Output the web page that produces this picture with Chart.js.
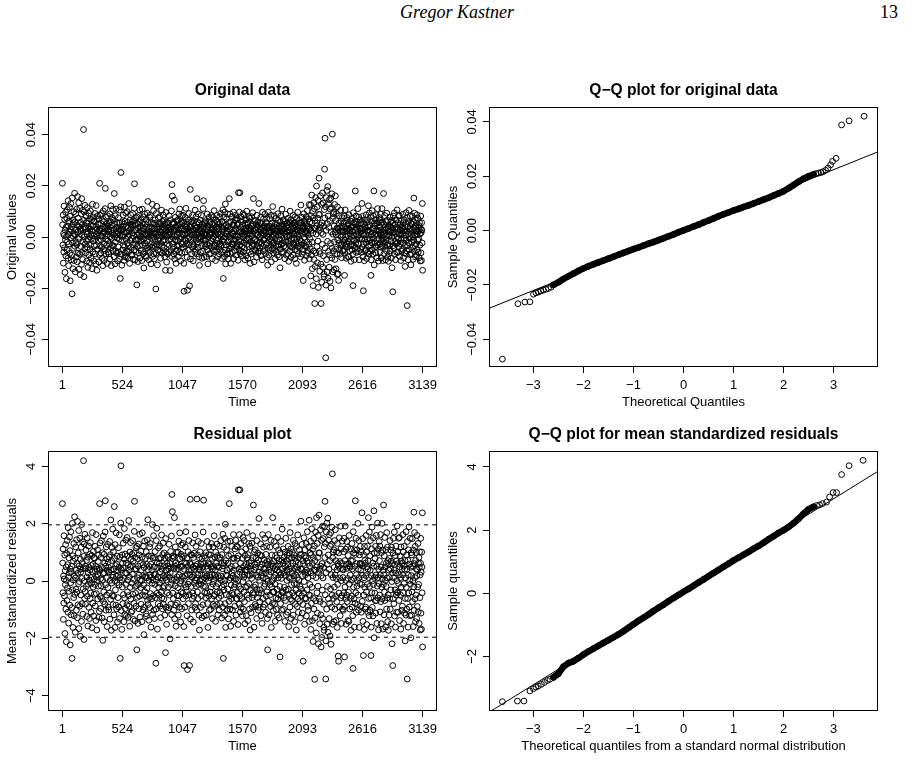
<!DOCTYPE html>
<html>
<head>
<meta charset="utf-8">
<script src="https://cdn.jsdelivr.net/npm/chart.js"></script>
<style>
  html, body { margin: 0; padding: 0; background: #fff; }
  body { width: 914px; height: 760px; position: relative; overflow: hidden; }
  .panel { position: absolute; width: 457px; height: 350px; }
  .header { position: absolute; top: 2px; font-family: "Liberation Serif", "DejaVu Serif", serif; font-size: 18px; line-height: 20px; color: #000; }
</style>
</head>
<body>
<div class="header" style="left:0;width:914px;text-align:center;font-style:italic;">Gregor Kastner</div>
<div class="header" style="right:16px;">13</div>
<div class="panel" style="left:0;top:70px"><canvas id="origPlot" width="457" height="350"></canvas></div>
<div class="panel" style="left:441px;top:70px"><canvas id="origQQ" width="457" height="350"></canvas></div>
<div class="panel" style="left:0;top:414px"><canvas id="residPlot" width="457" height="350"></canvas></div>
<div class="panel" style="left:441px;top:414px"><canvas id="residQQ" width="457" height="350"></canvas></div>
<script>
// every second day of the 3139: 1, 3, ..., 3139
const timeStep = 2;
const timeTicks = [1, 524, 1047, 1570, 2093, 2616, 3139];
const returnTicks = [-0.04, -0.02, 0, 0.02, 0.04];
const residualTicks = [-4, -2, 0, 2, 4];
const residualQQTicks = [-2, 0, 2, 4];
const quantileTicks = [-3, -2, -1, 0, 1, 2, 3];
const residualBands = [-1.96, 1.96];

const originalValues = [
  0.0210, 0.0048, -0.0031, 0.0086, -0.0102, 0.0014, -0.0059, 0.0121, 0.0006, -0.0042, 0.0069, -0.0138, 0.0027, -0.0011, 0.0097, -0.0074, 0.0038, -0.0163, 0.0002, 0.0073,
  -0.0051, 0.0107, -0.0018, 0.0043, -0.0083, 0.0142, 0.0009, -0.0112, 0.0061, -0.0027, 0.0022, 0.0117, -0.0064, 0.0081, -0.0171, 0.0032, -0.0004, 0.0131, -0.0089, 0.0025,
  0.0039, -0.0071, -0.0222, 0.0153, -0.0023, 0.0067, -0.0124, 0.0003, 0.0052, -0.0044, 0.0099, -0.0092, 0.0013, 0.0171, -0.0036, 0.0060, -0.0136, 0.0008, 0.0091, -0.0022,
  0.0029, -0.0078, 0.0109, -0.0030, 0.0046, -0.0097, 0.0158, 0.0021, -0.0063, 0.0074, -0.0007, 0.0134, -0.0126, 0.0040, -0.0001, -0.0067, 0.0113, 0.0031, -0.0147, 0.0058,
  0.0024, -0.0037, 0.0090, -0.0107, 0.0150, 0.0007, -0.0060, 0.0049, 0.0104, -0.0088, 0.0033, -0.0021, 0.0420, 0.0065, -0.0155, 0.0098, 0.0001, -0.0046, 0.0124, -0.0028,
  0.0040, -0.0062, 0.0034, 0.0082, -0.0014, 0.0055, -0.0094, 0.0011, 0.0115, -0.0040, 0.0063, -0.0119, 0.0021, -0.0008, 0.0093, -0.0070, 0.0036, 0.0002, -0.0100, 0.0071,
  0.0030, -0.0047, 0.0102, -0.0032, 0.0009, -0.0083, 0.0041, -0.0006, 0.0068, -0.0124, 0.0024, 0.0128, -0.0059, 0.0044, -0.0016, 0.0078, -0.0093, 0.0005, 0.0062, -0.0035,
  0.0060, -0.0009, 0.0092, -0.0066, 0.0026, 0.0039, -0.0105, 0.0123, -0.0033, 0.0011, -0.0130, 0.0031, 0.0002, 0.0083, -0.0048, 0.0017, 0.0052, -0.0014, 0.0070, -0.0097,
  0.0028, -0.0069, 0.0210, 0.0024, 0.0086, -0.0035, 0.0005, -0.0062, 0.0053, -0.0011, 0.0092, -0.0040, 0.0031, -0.0084, 0.0064, 0.0003, -0.0112, 0.0017, 0.0102, -0.0047,
  -0.0025, 0.0060, -0.0092, 0.0018, 0.0041, -0.0053, 0.0111, 0.0190, -0.0008, 0.0034, -0.0066, 0.0077, 0.0007, -0.0032, 0.0051, -0.0103, 0.0024, 0.0083, -0.0015, 0.0043,
  -0.0059, 0.0031, -0.0066, 0.0020, 0.0055, -0.0027, 0.0090, -0.0086, 0.0001, 0.0060, -0.0042, 0.0122, 0.0025, -0.0112, 0.0046, -0.0005, 0.0076, -0.0033, 0.0014, 0.0108,
  -0.0053, 0.0008, 0.0066, -0.0034, 0.0027, -0.0077, 0.0170, 0.0051, 0.0001, -0.0105, 0.0083, -0.0020, 0.0035, -0.0055, 0.0109, 0.0010, -0.0063, 0.0038, -0.0004, 0.0057,
  -0.0093, 0.0023, -0.0038, 0.0014, 0.0075, -0.0059, 0.0031, -0.0009, 0.0105, -0.0085, 0.0054, 0.0008, -0.0162, 0.0029, 0.0118, 0.0252, -0.0067, 0.0025, 0.0002, -0.0110,
  0.0059, -0.0014, 0.0040, -0.0051, 0.0030, 0.0086, -0.0031, 0.0006, -0.0092, 0.0050, 0.0117, -0.0038, -0.0077, 0.0061, -0.0062, 0.0018, 0.0093, -0.0008, 0.0041, -0.0079,
  0.0018, -0.0054, 0.0099, -0.0025, 0.0057, 0.0002, -0.0083, 0.0037, -0.0033, 0.0131, -0.0057, 0.0024, 0.0009, -0.0103, 0.0066, -0.0014, 0.0032, 0.0087, -0.0041, 0.0049,
  -0.0071, 0.0035, -0.0005, 0.0060, -0.0068, 0.0016, 0.0092, -0.0030, 0.0045, -0.0087, 0.0004, 0.0064, -0.0051, 0.0112, 0.0208, 0.0027, -0.0090, 0.0053, -0.0012, -0.0028,
  0.0075, -0.0057, 0.0027, -0.0010, -0.0187, 0.0079, -0.0037, 0.0007, 0.0051, -0.0096, 0.0034, -0.0008, 0.0084, -0.0063, 0.0014, 0.0059, -0.0034, 0.0106, -0.0082, 0.0003,
  0.0040, -0.0015, 0.0068, -0.0053, 0.0025, 0.0001, -0.0092, 0.0054, 0.0109, -0.0031, 0.0012, -0.0066, 0.0037, 0.0079, -0.0009, -0.0121, 0.0031, -0.0059, 0.0090, -0.0024,
  0.0008, 0.0051, -0.0034, 0.0012, -0.0074, 0.0066, -0.0080, 0.0007, 0.0038, -0.0016, 0.0093, -0.0044, 0.0139, -0.0053, 0.0025, 0.0057, -0.0089, 0.0001, 0.0033, -0.0038,
  0.0077, -0.0060, 0.0014, 0.0085, -0.0029, 0.0038, -0.0105, 0.0008, 0.0057, -0.0040, 0.0024, -0.0005, 0.0128, -0.0076, 0.0053, 0.0002, -0.0033, 0.0103, -0.0066, 0.0015,
  0.0032, -0.0085, 0.0053, -0.0008, 0.0067, -0.0038, 0.0016, -0.0203, -0.0064, 0.0092, 0.0001, 0.0120, -0.0028, 0.0041, -0.0109, 0.0031, 0.0009, -0.0051, 0.0075, -0.0014,
  0.0051, -0.0032, 0.0040, -0.0005, 0.0079, -0.0057, 0.0020, 0.0034, -0.0083, 0.0053, -0.0025, 0.0008, 0.0105, -0.0038, 0.0027, -0.0063, 0.0001, 0.0060, -0.0015, 0.0086,
  -0.0053, 0.0012, -0.0041, 0.0064, -0.0012, 0.0034, -0.0077, 0.0051, 0.0008, -0.0130, 0.0096, -0.0060, 0.0025, 0.0003, -0.0098, 0.0040, 0.0058, -0.0027, 0.0014, -0.0066,
  0.0034, 0.0054, -0.0014, 0.0027, -0.0060, 0.0083, -0.0032, 0.0008, 0.0040, -0.0131, 0.0018, 0.0067, -0.0053, 0.0031, -0.0008, 0.0102, -0.0076, 0.0205, 0.0002, 0.0160,
  0.0051, -0.0027, 0.0057, -0.0040, 0.0029, -0.0066, 0.0054, 0.0005, 0.0144, -0.0086, 0.0034, -0.0011, 0.0077, -0.0055, 0.0041, -0.0103, 0.0027, 0.0001, 0.0064, -0.0033,
  0.0009, -0.0051, 0.0037, -0.0015, 0.0066, -0.0077, 0.0028, 0.0090, -0.0034, 0.0014, -0.0059, 0.0109, 0.0051, -0.0006, 0.0032, -0.0093, 0.0001, 0.0060, -0.0025, 0.0082,
  -0.0063, 0.0033, 0.0010, 0.0053, -0.0028, 0.0085, -0.0040, 0.0008, 0.0057, -0.0103, -0.0212, 0.0027, -0.0008, 0.0042, -0.0059, 0.0077, 0.0012, -0.0034, 0.0112, -0.0014,
  0.0040, -0.0025, 0.0051, -0.0079, 0.0015, -0.0208, 0.0033, -0.0007, 0.0066, -0.0051, 0.0025, 0.0092, -0.0031, -0.0001, -0.0191, 0.0041, 0.0014, 0.0186, -0.0086, 0.0060,
  0.0038, -0.0012, 0.0025, -0.0066, 0.0059, 0.0008, -0.0040, 0.0086, -0.0027, 0.0031, -0.0093, 0.0053, 0.0012, -0.0034, 0.0063, -0.0005, 0.0027, -0.0060, 0.0105, 0.0002,
  -0.0051, 0.0034, 0.0079, -0.0012, 0.0007, -0.0066, 0.0150, 0.0038, -0.0025, 0.0059, 0.0014, -0.0040, 0.0090, -0.0008, 0.0027, -0.0077, 0.0053, -0.0111, 0.0032, 0.0001,
  0.0066, 0.0025, -0.0060, 0.0038, -0.0007, 0.0085, -0.0034, 0.0015, -0.0083, 0.0051, 0.0003, 0.0031, -0.0054, 0.0111, -0.0012, 0.0142, 0.0040, -0.0079, 0.0008, 0.0057,
  -0.0027, 0.0014, -0.0012, 0.0053, -0.0038, 0.0064, 0.0006, -0.0077, 0.0034, 0.0011, -0.0027, 0.0090, -0.0051, 0.0028, -0.0105, 0.0040, 0.0001, 0.0060, -0.0034, 0.0077,
  -0.0066, 0.0014, 0.0038, -0.0025, 0.0008, 0.0059, -0.0064, 0.0032, -0.0014, 0.0085, -0.0040, 0.0014, 0.0051, -0.0085, 0.0027, -0.0007, 0.0077, -0.0053, 0.0033, 0.0001,
  -0.0034, 0.0103, -0.0057, 0.0014, 0.0054, -0.0031, 0.0025, -0.0092, 0.0066, 0.0008, -0.0012, 0.0040, -0.0053, 0.0084, -0.0025, 0.0033, 0.0058, -0.0077, 0.0012, -0.0006,
  0.0051, -0.0038, 0.0031, -0.0066, 0.0007, 0.0079, -0.0027, 0.0053, -0.0051, 0.0012, 0.0092, -0.0033, 0.0001, 0.0040, -0.0084, 0.0060, -0.0014, 0.0028, -0.0059, 0.0106,
  0.0034, -0.0162, -0.0008, 0.0077, -0.0020, 0.0041, -0.0077, 0.0097, 0.0001, -0.0051, 0.0129, -0.0105, 0.0046, 0.0014, -0.0031, 0.0071, -0.0067, 0.0025, 0.0012, -0.0064,
  0.0090, -0.0018, 0.0040, -0.0086, 0.0057, 0.0002, -0.0046, 0.0150, -0.0034, 0.0028, -0.0064, 0.0090, 0.0007, -0.0103, 0.0060, -0.0009, 0.0033, -0.0040, 0.0079, -0.0028,
  0.0017, -0.0061, 0.0047, 0.0011, -0.0029, 0.0097, -0.0085, 0.0023, 0.0047, -0.0013, 0.0005, -0.0053, 0.0067, -0.0007, 0.0032, 0.0085, -0.0071, 0.0005, -0.0037, 0.0073,
  -0.0037, 0.0047, -0.0025, 0.0071, 0.0001, -0.0091, 0.0053, 0.0173, -0.0011, 0.0025, -0.0049, 0.0097, -0.0031, 0.0173, 0.0019, -0.0065, 0.0037, -0.0017, 0.0079, -0.0056,
  0.0023, 0.0061, -0.0037, 0.0013, -0.0073, 0.0047, -0.0001, 0.0091, -0.0059, 0.0031, 0.0008, -0.0023, 0.0085, -0.0043, 0.0013, -0.0089, 0.0053, 0.0023, -0.0013, 0.0067,
  0.0035, -0.0073, 0.0023, 0.0101, -0.0029, 0.0049, -0.0011, 0.0029, -0.0083, 0.0055, 0.0013, -0.0037, 0.0079, -0.0005, 0.0038, -0.0059, 0.0011, 0.0073, -0.0103, 0.0025,
  -0.0019, 0.0031, -0.0067, 0.0043, 0.0005, 0.0079, -0.0035, 0.0014, -0.0055, 0.0095, -0.0025, 0.0049, 0.0150, -0.0029, 0.0023, -0.0097, 0.0061, -0.0013, 0.0035, -0.0049,
  0.0065, -0.0008, 0.0029, -0.0053, 0.0049, 0.0013, -0.0079, 0.0085, -0.0017, 0.0037, -0.0035, 0.0058, 0.0008, -0.0061, 0.0044, -0.0025, 0.0131, -0.0055, 0.0019, 0.0001,
  -0.0043, 0.0055, -0.0019, 0.0029, 0.0077, -0.0073, 0.0011, -0.0025, 0.0053, 0.0035, -0.0089, 0.0017, 0.0097, -0.0037, 0.0007, -0.0055, 0.0071, 0.0025, -0.0011, 0.0044,
  0.0025, -0.0049, 0.0089, -0.0007, 0.0037, -0.0065, 0.0017, 0.0056, -0.0031, 0.0005, 0.0073, -0.0023, 0.0041, -0.0079, -0.0110, 0.0035, -0.0001, 0.0097, -0.0043, 0.0023,
  -0.0071, 0.0013, 0.0043, -0.0029, 0.0071, -0.0007, 0.0029, -0.0053, 0.0019, 0.0085, -0.0097, 0.0037, -0.0013, 0.0055, 0.0001, -0.0047, 0.0119, -0.0023, 0.0031, -0.0062,
  0.0041, -0.0023, 0.0007, 0.0083, -0.0049, 0.0025, -0.0007, -0.0085, 0.0053, 0.0013, -0.0035, 0.0073, -0.0059, 0.0031, 0.0049, -0.0017, 0.0023, -0.0071, 0.0091, -0.0037,
  0.0007, 0.0065, -0.0029, 0.0043, -0.0077, 0.0019, 0.0035, -0.0011, -0.0120, 0.0059, -0.0047, 0.0013, 0.0083, -0.0031, 0.0005, -0.0061, 0.0043, 0.0109, -0.0023, 0.0025,
  -0.0025, 0.0037, 0.0067, -0.0059, 0.0017, -0.0035, 0.0050, -0.0013, 0.0031, -0.0085, 0.0061, 0.0011, -0.0041, 0.0089, -0.0019, 0.0043, -0.0071, 0.0023, 0.0001, 0.0055,
  0.0019, -0.0065, 0.0035, 0.0073, -0.0017, 0.0047, -0.0095, 0.0007, 0.0059, -0.0029, 0.0025, -0.0055, 0.0101, 0.0005, -0.0037, 0.0067, -0.0079, 0.0031, -0.0008, 0.0049,
  -0.0041, 0.0017, 0.0061, -0.0025, 0.0037, -0.0071, 0.0085, 0.0011, -0.0031, 0.0055, -0.0005, 0.0026, -0.0085, 0.0047, 0.0079, -0.0049, 0.0013, -0.0019, 0.0041, -0.0103,
  0.0073, -0.0007, 0.0029, -0.0053, 0.0007, 0.0097, -0.0037, 0.0023, -0.0065, 0.0049, 0.0002, -0.0025, 0.0065, -0.0043, 0.0035, -0.0011, 0.0055, -0.0077, 0.0025, 0.0125,
  -0.0017, 0.0055, -0.0031, 0.0025, 0.0077, -0.0067, 0.0011, 0.0043, -0.0049, -0.0170, 0.0037, -0.0025, 0.0091, -0.0001, 0.0053, -0.0091, 0.0019, 0.0065, -0.0035, 0.0013,
  0.0049, -0.0037, 0.0079, -0.0073, 0.0023, 0.0041, -0.0019, 0.0103, -0.0053, 0.0017, 0.0007, -0.0061, 0.0037, 0.0071, -0.0029, 0.0127, -0.0085, 0.0031, -0.0007, 0.0059,
  -0.0046, 0.0125, -0.0152, 0.0026, 0.0083, -0.0070, 0.0164, -0.0020, 0.0055, -0.0124, 0.0100, 0.0016, -0.0190, 0.0074, -0.0055, 0.0134, -0.0088, 0.0035, 0.0110, -0.0260,
  0.0064, -0.0115, 0.0034, 0.0154, -0.0062, 0.0011, -0.0163, 0.0199, 0.0044, -0.0037, 0.0118, -0.0101, 0.0074, -0.0016, 0.0143, -0.0197, 0.0026, 0.0088, 0.0230, -0.0056,
  0.0088, -0.0134, 0.0037, -0.0065, 0.0161, 0.0047, -0.0106, -0.0260, 0.0017, 0.0128, -0.0177, 0.0055, -0.0029, 0.0172, -0.0118, 0.0010, 0.0133, -0.0073, 0.0043, -0.0145,
  -0.0155, 0.0107, 0.0265, 0.0074, 0.0386, -0.0043, 0.0118, -0.0472, -0.0188, 0.0026, 0.0154, -0.0088, 0.0182, -0.0136, 0.0052, -0.0017, 0.0197, -0.0161, 0.0082, -0.0056,
  0.0128, 0.0037, -0.0118, 0.0146, -0.0070, 0.0064, -0.0173, 0.0109, -0.0025, 0.0152, -0.0199, 0.0020, 0.0115, -0.0082, 0.0169, -0.0044, 0.0402, 0.0073, -0.0136, 0.0011,
  0.0091, -0.0055, 0.0098, -0.0128, 0.0043, -0.0019, 0.0127, -0.0088, 0.0019, 0.0161, -0.0047, 0.0064, -0.0124, 0.0008, 0.0092, -0.0065, 0.0035, -0.0146, 0.0118, -0.0011,
  0.0034, -0.0144, 0.0029, -0.0170, 0.0054, -0.0023, 0.0083, -0.0050, 0.0006, 0.0037, -0.0067, 0.0023, 0.0105, -0.0032, 0.0062, 0.0001, -0.0081, 0.0034, -0.0028, 0.0076,
  -0.0054, 0.0023, 0.0007, -0.0056, 0.0021, 0.0056, -0.0023, 0.0082, -0.0049, -0.0150, 0.0039, -0.0012, 0.0106, -0.0034, 0.0061, 0.0001, -0.0083, 0.0032, -0.0027, 0.0076,
  0.0024, -0.0040, 0.0065, 0.0005, -0.0076, 0.0049, -0.0021, 0.0034, -0.0078, 0.0087, -0.0006, 0.0029, -0.0054, 0.0026, 0.0012, -0.0034, 0.0062, -0.0095, 0.0039, 0.0002,
  -0.0029, 0.0072, -0.0050, 0.0023, 0.0039, -0.0067, -0.0190, 0.0095, -0.0012, 0.0054, -0.0034, 0.0005, -0.0089, 0.0060, 0.0028, -0.0043, 0.0180, 0.0051, -0.0023, 0.0082,
  -0.0060, 0.0012, 0.0034, -0.0010, 0.0060, 0.0001, -0.0045, 0.0111, -0.0027, 0.0023, -0.0056, 0.0078, 0.0007, -0.0089, 0.0050, -0.0005, 0.0032, 0.0034, 0.0067, -0.0048,
  0.0021, 0.0056, -0.0060, 0.0032, -0.0007, 0.0131, -0.0039, 0.0012, 0.0081, -0.0078, 0.0029, -0.0210, 0.0051, -0.0027, 0.0006, -0.0093, 0.0067, -0.0012, 0.0040, -0.0054,
  0.0034, -0.0050, 0.0010, 0.0087, -0.0021, 0.0056, -0.0084, 0.0027, -0.0007, 0.0067, -0.0060, 0.0023, 0.0039, 0.0122, -0.0034, 0.0007, -0.0067, 0.0094, -0.0010, 0.0048,
  -0.0056, 0.0021, 0.0078, -0.0032, -0.0150, -0.0089, 0.0010, 0.0062, -0.0023, 0.0103, -0.0051, 0.0001, 0.0035, -0.0067, 0.0083, -0.0007, 0.0029, 0.0180, -0.0109, 0.0054,
  0.0007, -0.0023, 0.0043, -0.0038, 0.0067, -0.0062, 0.0012, 0.0087, -0.0037, 0.0028, -0.0081, 0.0054, -0.0010, 0.0111, -0.0032, 0.0007, 0.0061, -0.0094, 0.0023, -0.0005,
  0.0076, 0.0039, -0.0027, 0.0067, -0.0059, 0.0012, 0.0089, -0.0040, 0.0027, -0.0082, 0.0054, -0.0012, 0.0111, -0.0034, 0.0005, 0.0059, -0.0092, 0.0021, -0.0007, 0.0170,
  0.0012, -0.0065, 0.0048, -0.0021, 0.0084, -0.0037, 0.0027, 0.0001, -0.0089, 0.0060, -0.0010, 0.0034, -0.0054, 0.0093, 0.0006, -0.0032, 0.0065, -0.0078, 0.0039, -0.0026,
  -0.0095, 0.0032, 0.0021, -0.0065, 0.0043, 0.0007, -0.0034, 0.0078, -0.0054, 0.0023, 0.0059, -0.0017, 0.0038, -0.0082, 0.0065, -0.0001, -0.0120, 0.0034, 0.0016, -0.0214,
  0.0054, -0.0034, 0.0082, 0.0006, -0.0043, 0.0021, 0.0094, -0.0067, 0.0032, -0.0017, 0.0049, -0.0089, 0.0015, 0.0067, -0.0027, 0.0038, -0.0060, 0.0001, 0.0106, -0.0023,
  -0.0021, 0.0056, -0.0060, 0.0034, -0.0005, 0.0082, -0.0037, 0.0012, 0.0084, -0.0076, 0.0027, 0.0048, -0.0026, 0.0007, -0.0092, 0.0065, -0.0012, 0.0038, -0.0056, 0.0023,
  0.0034, -0.0048, 0.0012, 0.0089, -0.0023, 0.0056, -0.0081, 0.0029, -0.0005, 0.0067, -0.0062, 0.0023, 0.0040, -0.0115, -0.0034, 0.0006, -0.0065, 0.0095, -0.0012, 0.0050,
  -0.0054, 0.0023, -0.0268, 0.0076, -0.0034, 0.0040, -0.0089, 0.0012, 0.0060, -0.0023, 0.0104, -0.0050, 0.0001, 0.0032, -0.0067, 0.0082, -0.0006, 0.0026, -0.0109, 0.0054,
  0.0010, -0.0065, 0.0050, -0.0021, 0.0081, -0.0040, 0.0029, 0.0001, -0.0087, 0.0059, -0.0012, 0.0152, 0.0034, -0.0056, 0.0093, 0.0007, -0.0034, 0.0067, -0.0078, 0.0040,
  -0.0027, 0.0054, 0.0023, -0.0072, 0.0010, 0.0087, -0.0049, 0.0021, -0.0012, 0.0072, -0.0059, 0.0034, -0.0007, 0.0045, -0.0081, 0.0026, 0.0056, -0.0032, 0.0012, -0.0094,
  0.0034, 0.0082, -0.0062, 0.0017, -0.0092, 0.0056, 0.0027, -0.0023, 0.0131, -0.0130
];

const residualValues = [
  2.70, 0.63, -0.41, 1.12, -1.34, 0.18, -0.77, 1.58, 0.07, -0.52, 0.91, -1.83, 0.36, -0.13, 1.27, -0.98, 0.49, -2.12, 0.02, 0.96,
  -0.68, 1.41, -0.24, 0.57, -1.09, 1.86, 0.13, -1.47, 0.81, -0.36, 0.29, 1.53, -0.84, 1.06, -2.23, 0.42, -0.06, 1.72, -1.18, 0.33,
  0.52, -0.93, -2.70, 2.01, -0.31, 0.88, -1.62, 0.04, 0.69, -0.58, 1.31, -1.21, 0.17, 2.24, -0.47, 0.79, -1.79, 0.11, 1.19, -0.29,
  0.38, -1.02, 1.44, -0.39, 0.61, -1.28, 2.08, 0.27, -0.83, 0.98, -0.09, 1.76, -1.66, 0.53, -0.02, -0.88, 1.49, 0.41, -1.93, 0.76,
  0.31, -0.49, 1.18, -1.41, 1.97, 0.09, -0.79, 0.64, 1.37, -1.16, 0.43, -0.27, 4.20, 0.86, -2.04, 1.29, 0.01, -0.61, 1.63, -0.37,
  0.52, -0.81, 0.44, 1.08, -0.19, 0.72, -1.24, 0.14, 1.51, -0.53, 0.83, -1.57, 0.28, -0.11, 1.22, -0.92, 0.48, 0.03, -1.31, 0.93,
  0.39, -0.62, 1.34, -0.42, 0.12, -1.09, 0.54, -0.08, 0.89, -1.63, 0.32, 1.69, -0.77, 0.58, -0.21, 1.03, -1.22, 0.06, 0.81, -0.46,
  0.79, -0.12, 1.21, -0.87, 0.34, 0.51, -1.38, 1.62, -0.44, 0.14, -1.71, 0.41, 0.02, 1.09, -0.63, 0.23, 0.68, -0.18, 0.92, -1.27,
  0.43, -1.06, 2.70, 0.37, 1.33, -0.54, 0.08, -0.96, 0.82, -0.17, 1.41, -0.61, 0.47, -1.29, 0.99, 0.04, -2.07, 0.26, 1.57, -0.72,
  -0.38, 0.93, -1.42, 0.28, 0.63, -0.81, 1.71, 2.80, -0.13, 0.52, -1.02, 1.19, 0.11, -0.49, 0.78, -1.59, 0.37, 1.28, -0.23, 0.66,
  -0.91, 0.47, -1.01, 0.31, 0.84, -0.42, 1.38, -1.33, 0.02, 0.92, -0.64, 2.13, 0.38, -1.72, 0.71, -0.07, 1.17, -0.51, 0.22, 1.81,
  -0.82, 0.13, 1.02, -0.53, 0.42, -1.18, 2.60, 0.79, 0.01, -1.62, 1.27, -0.31, 0.54, -0.84, 1.68, 0.16, -0.97, 0.59, -0.06, 0.87,
  -1.43, 0.36, -0.58, 0.21, 1.16, -0.91, 0.48, -0.14, 1.61, -1.31, 0.83, 0.12, -2.70, 0.44, 2.02, 4.02, -1.03, 0.39, 0.03, -1.69,
  0.91, -0.21, 0.62, -0.79, 0.46, 1.32, -0.47, 0.09, -1.42, 0.77, 1.83, -0.59, -1.18, 0.94, -0.96, 0.28, 1.43, -0.12, 0.63, -1.21,
  0.27, -0.83, 1.52, -0.38, 0.88, 0.03, -1.27, 0.57, -0.51, 2.11, -0.88, 0.37, 0.14, -1.58, 1.01, -0.22, 0.49, 1.34, -0.63, 0.76,
  -1.09, 0.54, -0.07, 0.93, -1.04, 0.24, 1.41, -0.46, 0.69, -1.34, 0.06, 0.98, -0.78, 1.73, 2.78, 0.41, -1.39, 0.82, -0.19, -0.43,
  1.16, -0.88, 0.42, -0.16, -2.40, 1.21, -0.57, 0.11, 0.78, -1.48, 0.52, -0.12, 1.29, -0.97, 0.21, 0.91, -0.53, 1.63, -1.26, 0.04,
  0.61, -0.23, 1.04, -0.81, 0.38, 0.01, -1.42, 0.83, 1.68, -0.48, 0.19, -1.01, 0.57, 1.22, -0.14, -1.87, 0.47, -0.91, 1.39, -0.37,
  0.13, 0.79, -0.52, 0.18, -1.14, 1.02, -1.23, 0.11, 0.58, -0.24, 1.43, -0.67, 2.14, -0.82, 0.39, 0.88, -1.37, 0.02, 0.51, -0.58,
  1.19, -0.93, 0.22, 1.31, -0.44, 0.59, -1.61, 0.13, 0.87, -0.62, 0.37, -0.08, 1.97, -1.17, 0.81, 0.03, -0.51, 1.58, -1.02, 0.23,
  0.49, -1.31, 0.82, -0.12, 1.03, -0.58, 0.24, -2.87, -0.98, 1.41, 0.02, 1.84, -0.43, 0.63, -1.68, 0.47, 0.14, -0.79, 1.16, -0.22,
  0.78, -0.49, 0.61, -0.07, 1.22, -0.88, 0.31, 0.52, -1.28, 0.81, -0.38, 0.12, 1.61, -0.59, 0.41, -0.97, 0.02, 0.92, -0.23, 1.33,
  -0.81, 0.18, -0.63, 0.98, -0.18, 0.53, -1.19, 0.79, 0.12, -2.50, 1.48, -0.92, 0.38, 0.04, -1.51, 0.62, 0.89, -0.41, 0.21, -1.02,
  0.52, 0.83, -0.21, 0.42, -0.93, 1.28, -0.49, 0.13, 0.61, -2.02, 0.28, 1.03, -0.81, 0.47, -0.12, 1.57, -1.17, 3.02, 0.03, 2.42,
  0.79, -0.42, 0.88, -0.61, 0.44, -1.02, 0.83, 0.08, 2.21, -1.32, 0.52, -0.17, 1.19, -0.84, 0.63, -1.58, 0.41, 0.02, 0.99, -0.51,
  0.14, -0.78, 0.57, -0.23, 1.01, -1.19, 0.43, 1.39, -0.52, 0.21, -0.91, 1.68, 0.78, -0.09, 0.49, -1.43, 0.01, 0.93, -0.38, 1.26,
  -0.97, 0.51, 0.16, 0.82, -0.43, 1.31, -0.62, 0.12, 0.88, -1.59, -2.95, 0.41, -0.13, 0.64, -0.91, 1.19, 0.18, -0.52, 1.72, -0.21,
  0.62, -0.38, 0.79, -1.21, 0.23, -3.09, 0.51, -0.11, 1.02, -0.79, 0.38, 1.41, -0.48, -0.02, -2.95, 0.63, 0.22, 2.85, -1.33, 0.92,
  0.58, -0.19, 0.39, -1.01, 0.91, 0.13, -0.61, 1.33, -0.42, 0.48, -1.43, 0.82, 0.19, -0.53, 0.97, -0.08, 0.41, -0.92, 1.61, 0.03,
  -0.79, 0.52, 1.21, -0.18, 0.11, -1.02, 2.86, 0.58, -0.38, 0.91, 0.22, -0.61, 1.38, -0.12, 0.42, -1.19, 0.81, -1.71, 0.49, 0.01,
  1.02, 0.38, -0.92, 0.59, -0.11, 1.31, -0.52, 0.23, -1.28, 0.78, 0.04, 0.48, -0.83, 1.71, -0.19, 2.82, 0.61, -1.22, 0.12, 0.88,
  -0.41, 0.22, -0.19, 0.81, -0.58, 0.99, 0.09, -1.19, 0.52, 0.17, -0.42, 1.38, -0.79, 0.43, -1.62, 0.61, 0.01, 0.92, -0.52, 1.19,
  -1.02, 0.21, 0.58, -0.38, 0.12, 0.91, -0.99, 0.49, -0.21, 1.31, -0.62, 0.22, 0.79, -1.31, 0.42, -0.11, 1.19, -0.82, 0.51, 0.02,
  -0.52, 1.58, -0.88, 0.21, 0.83, -0.47, 0.39, -1.41, 1.01, 0.12, -0.19, 0.62, -0.82, 1.29, -0.38, 0.51, 0.89, -1.18, 0.19, -0.09,
  0.79, -0.58, 0.48, -1.02, 0.11, 1.22, -0.41, 0.82, -0.79, 0.18, 1.41, -0.51, 0.02, 0.61, -1.29, 0.92, -0.21, 0.43, -0.91, 1.63,
  0.53, -2.70, -0.12, 1.18, -0.31, 0.63, -1.19, 1.49, 0.01, -0.79, 1.98, -1.62, 0.71, 0.21, -0.48, 1.09, -1.03, 0.39, 0.18, -0.99,
  1.38, -0.28, 0.62, -1.32, 0.88, 0.03, -0.71, 2.70, -0.52, 0.43, -0.98, 1.39, 0.11, -1.58, 0.92, -0.14, 0.51, -0.62, 1.21, -0.43,
  0.29, -1.01, 0.79, 0.18, -0.48, 1.62, -1.41, 0.38, 0.79, -0.21, 0.09, -0.88, 1.12, -0.12, 0.53, 1.42, -1.19, 0.08, -0.61, 1.21,
  -0.62, 0.79, -0.41, 1.19, 0.02, -1.52, 0.88, 3.18, -0.19, 0.42, -0.81, 1.62, -0.52, 3.18, 0.31, -1.08, 0.62, -0.28, 1.31, -0.93,
  0.38, 1.02, -0.61, 0.22, -1.21, 0.79, -0.02, 1.52, -0.98, 0.51, 0.13, -0.38, 1.41, -0.72, 0.22, -1.49, 0.89, 0.38, -0.21, 1.12,
  0.58, -1.21, 0.39, 1.69, -0.49, 0.81, -0.19, 0.49, -1.38, 0.92, 0.21, -0.61, 1.31, -0.09, 0.63, -0.98, 0.19, 1.21, -1.71, 0.41,
  -0.31, 0.52, -1.11, 0.71, 0.09, 1.32, -0.58, 0.24, -0.91, 1.58, -0.41, 0.81, 2.65, -0.48, 0.39, -1.61, 1.02, -0.22, 0.58, -0.82,
  1.09, -0.14, 0.48, -0.89, 0.81, 0.21, -1.31, 1.41, -0.29, 0.62, -0.58, 0.97, 0.13, -1.02, 0.73, -0.42, 2.18, -0.92, 0.31, 0.02,
  -0.72, 0.91, -0.31, 0.48, 1.29, -1.21, 0.19, -0.42, 0.88, 0.58, -1.48, 0.29, 1.62, -0.61, 0.11, -0.91, 1.18, 0.42, -0.19, 0.73,
  0.41, -0.82, 1.49, -0.11, 0.62, -1.09, 0.29, 0.93, -0.52, 0.08, 1.21, -0.38, 0.69, -1.31, -2.40, 0.58, -0.01, 1.62, -0.71, 0.38,
  -1.18, 0.22, 0.71, -0.49, 1.18, -0.12, 0.48, -0.89, 0.32, 1.42, -1.62, 0.61, -0.21, 0.91, 0.01, -0.78, 2.21, -0.38, 0.52, -1.03,
  0.69, -0.38, 0.12, 1.38, -0.81, 0.42, -0.11, -1.41, 0.89, 0.21, -0.59, 1.21, -0.99, 0.51, 0.81, -0.29, 0.38, -1.19, 1.52, -0.62,
  0.11, 1.09, -0.48, 0.71, -1.28, 0.31, 0.59, -0.19, -2.65, 0.98, -0.79, 0.21, 1.38, -0.51, 0.09, -1.02, 0.72, 1.81, -0.38, 0.42,
  -0.41, 0.62, 1.12, -0.99, 0.29, -0.58, 0.83, -0.22, 0.52, -1.41, 1.01, 0.19, -0.68, 1.49, -0.31, 0.71, -1.18, 0.38, 0.02, 0.91,
  0.32, -1.09, 0.58, 1.21, -0.29, 0.79, -1.59, 0.12, 0.98, -0.48, 0.41, -0.91, 1.69, 0.09, -0.62, 1.12, -1.31, 0.52, -0.13, 0.81,
  -0.68, 0.29, 1.01, -0.41, 0.62, -1.19, 1.42, 0.18, -0.52, 0.91, -0.09, 0.43, -1.42, 0.79, 1.31, -0.81, 0.21, -0.31, 0.69, -1.71,
  1.21, -0.11, 0.48, -0.89, 0.12, 1.61, -0.62, 0.38, -1.09, 0.81, 0.03, -0.42, 1.09, -0.71, 0.58, -0.19, 0.92, -1.29, 0.42, 2.09,
  -0.29, 0.92, -0.52, 0.41, 1.28, -1.12, 0.19, 0.71, -0.82, -2.80, 0.61, -0.41, 1.51, -0.02, 0.88, -1.51, 0.31, 1.09, -0.59, 0.22,
  0.81, -0.62, 1.31, -1.22, 0.38, 0.69, -0.31, 1.72, -0.88, 0.29, 0.11, -1.02, 0.62, 1.19, -0.48, 2.12, -1.41, 0.52, -0.12, 0.98,
  -0.51, 1.39, -1.69, 0.29, 0.92, -0.78, 1.82, -0.22, 0.61, -1.38, 1.11, 0.18, -2.11, 0.82, -0.61, 1.49, -0.98, 0.39, 1.22, -3.43,
  0.71, -1.28, 0.38, 1.71, -0.69, 0.12, -1.81, 2.21, 0.49, -0.41, 1.31, -1.12, 0.82, -0.18, 1.59, -2.19, 0.29, 0.98, 2.30, -0.62,
  0.98, -1.49, 0.41, -0.72, 1.79, 0.52, -1.18, -2.30, 0.19, 1.42, -1.97, 0.61, -0.32, 1.91, -1.31, 0.11, 1.48, -0.81, 0.48, -1.61,
  -1.72, 1.19, 1.90, 0.82, 2.78, -0.48, 1.31, -3.42, -2.09, 0.29, 1.71, -0.98, 2.02, -1.51, 0.58, -0.19, 2.19, -1.79, 0.91, -0.62,
  1.42, 0.41, -1.31, 1.62, -0.78, 0.71, -1.92, 1.21, -0.28, 1.69, -2.21, 0.22, 1.28, -0.91, 1.88, -0.49, 3.74, 0.81, -1.51, 0.12,
  1.01, -0.61, 1.09, -1.42, 0.48, -0.21, 1.41, -0.98, 0.21, 1.79, -0.52, 0.71, -1.38, 0.09, 1.02, -0.72, 0.39, -1.62, 1.31, -0.12,
  0.61, -2.62, 0.52, -2.80, 0.98, -0.42, 1.51, -0.91, 0.11, 0.68, -1.21, 0.42, 1.91, -0.59, 1.12, 0.01, -1.48, 0.62, -0.51, 1.39,
  -0.98, 0.41, 0.12, -1.02, 0.39, 1.02, -0.41, 1.49, -0.89, -2.65, 0.71, -0.21, 1.92, -0.61, 1.11, 0.02, -1.51, 0.58, -0.49, 1.38,
  0.44, -0.72, 1.18, 0.09, -1.38, 0.89, -0.39, 0.61, -1.41, 1.59, -0.11, 0.52, -0.98, 0.48, 0.21, -0.61, 1.12, -1.72, 0.71, 0.03,
  -0.52, 1.31, -0.91, 0.42, 0.71, -1.21, -3.05, 1.72, -0.21, 0.98, -0.62, 0.09, -1.61, 1.09, 0.51, -0.78, 2.80, 0.93, -0.41, 1.49,
  -1.09, 0.22, 0.61, -0.18, 1.09, 0.02, -0.82, 2.01, -0.49, 0.41, -1.02, 1.41, 0.12, -1.62, 0.91, -0.09, 0.58, 0.62, 1.21, -0.88,
  0.38, 1.02, -1.09, 0.59, -0.12, 2.38, -0.71, 0.21, 1.48, -1.41, 0.52, -2.60, 0.92, -0.49, 0.11, -1.69, 1.21, -0.22, 0.72, -0.98,
  0.62, -0.91, 0.19, 1.59, -0.38, 1.01, -1.52, 0.49, -0.12, 1.22, -1.09, 0.42, 0.71, 2.21, -0.61, 0.12, -1.21, 1.71, -0.19, 0.88,
  -1.02, 0.38, 1.41, -0.59, -2.60, -1.61, 0.19, 1.12, -0.41, 1.88, -0.92, 0.01, 0.63, -1.22, 1.51, -0.12, 0.52, 2.45, -1.98, 0.98,
  0.12, -0.42, 0.78, -0.69, 1.21, -1.12, 0.21, 1.59, -0.68, 0.51, -1.48, 0.98, -0.18, 2.02, -0.59, 0.12, 1.11, -1.71, 0.41, -0.09,
  1.38, 0.71, -0.49, 1.22, -1.08, 0.21, 1.62, -0.72, 0.49, -1.49, 0.99, -0.21, 2.01, -0.62, 0.09, 1.08, -1.68, 0.38, -0.12, 2.65,
  0.22, -1.18, 0.88, -0.39, 1.52, -0.68, 0.49, 0.02, -1.61, 1.09, -0.19, 0.62, -0.98, 1.69, 0.11, -0.59, 1.18, -1.42, 0.71, -0.48,
  -1.72, 0.58, 0.38, -1.19, 0.79, 0.12, -0.61, 1.41, -0.98, 0.42, 1.08, -0.31, 0.69, -1.49, 1.18, -0.02, -2.19, 0.61, 0.29, -2.95,
  0.98, -0.62, 1.49, 0.11, -0.79, 0.38, 1.71, -1.22, 0.58, -0.31, 0.89, -1.61, 0.28, 1.22, -0.49, 0.69, -1.09, 0.01, 1.92, -0.41,
  -0.39, 1.01, -1.09, 0.61, -0.09, 1.49, -0.68, 0.22, 1.52, -1.38, 0.49, 0.88, -0.48, 0.12, -1.68, 1.19, -0.21, 0.69, -1.02, 0.41,
  0.62, -0.88, 0.21, 1.62, -0.41, 1.01, -1.48, 0.52, -0.09, 1.21, -1.12, 0.41, 0.72, -2.09, -0.61, 0.11, -1.19, 1.72, -0.22, 0.91,
  -0.98, 0.41, -3.42, 1.38, -0.61, 0.72, -1.61, 0.21, 1.09, -0.42, 1.89, -0.91, 0.02, 0.59, -1.21, 1.49, -0.11, 0.48, -1.98, 0.99,
  0.19, -1.19, 0.91, -0.38, 1.48, -0.72, 0.52, 0.01, -1.59, 1.08, -0.21, 2.40, 0.61, -1.02, 1.69, 0.12, -0.62, 1.21, -1.42, 0.72,
  -0.49, 0.99, 0.42, -1.31, 0.18, 1.59, -0.89, 0.39, -0.21, 1.31, -1.08, 0.62, -0.12, 0.82, -1.48, 0.48, 1.02, -0.58, 0.21, -1.71,
  0.62, 1.49, -1.12, 0.31, -1.68, 1.01, 0.49, -0.41, 2.38, -2.30
];

// Q-Q plots: the dense middle of each curve, read at these theoretical quantiles
const qqBodyTheoretical = [
  -2.6, -2.5, -2.4, -2.3, -2.2, -2.1, -2.0, -1.9, -1.8, -1.7, -1.6, -1.5, -1.4, -1.3, -1.2, -1.1, -1.0, -0.9,
  -0.8, -0.7, -0.6, -0.5, -0.4, -0.3, -0.2, -0.1, 0.0, 0.1, 0.2, 0.3, 0.4, 0.5, 0.6, 0.7, 0.8, 0.9,
  1.0, 1.1, 1.2, 1.3, 1.4, 1.5, 1.6, 1.7, 1.8, 1.9, 2.0, 2.1, 2.2, 2.3, 2.4, 2.5, 2.6
];
const qqBodyOriginal = [
  -0.0200, -0.0190, -0.0178, -0.0168, -0.0158, -0.0148, -0.0139, -0.0131, -0.0124, -0.0117, -0.0110, -0.0103, -0.0096, -0.0089, -0.0082, -0.0075, -0.0068, -0.0062,
  -0.0055, -0.0048, -0.0042, -0.0035, -0.0028, -0.0021, -0.0014, -0.0006, 0.0001, 0.0008, 0.0015, 0.0022, 0.0030, 0.0037, 0.0045, 0.0053, 0.0060, 0.0067,
  0.0074, 0.0080, 0.0087, 0.0093, 0.0100, 0.0107, 0.0114, 0.0121, 0.0129, 0.0137, 0.0145, 0.0156, 0.0168, 0.0180, 0.0191, 0.0200, 0.0207
];
const qqBodyResidual = [
  -2.66, -2.54, -2.32, -2.21, -2.15, -2.05, -1.94, -1.84, -1.75, -1.66, -1.57, -1.48, -1.39, -1.30, -1.20, -1.09, -0.98, -0.87,
  -0.77, -0.67, -0.56, -0.46, -0.36, -0.25, -0.15, -0.05, 0.05, 0.14, 0.24, 0.34, 0.44, 0.54, 0.64, 0.74, 0.84, 0.94,
  1.04, 1.13, 1.22, 1.31, 1.41, 1.50, 1.60, 1.71, 1.81, 1.91, 2.00, 2.10, 2.22, 2.36, 2.52, 2.66, 2.74
];
// the single circles in both tails
const qqTailTheoreticalOriginal = [-3.62, -3.31, -3.17, -3.07, -3.00, -2.95, -2.90, -2.85, -2.80, -2.75, -2.70, -2.65,
  2.65, 2.70, 2.75, 2.79, 2.84, 2.89, 2.94, 2.98, 3.05, 3.16, 3.31, 3.61];
const qqTailOriginal = [-0.0473, -0.0269, -0.0263, -0.0262, -0.0234, -0.0229, -0.0226, -0.0222, -0.0219, -0.0216, -0.0213, -0.0208,
  0.0210, 0.0212, 0.0214, 0.0217, 0.0222, 0.0230, 0.0242, 0.0255, 0.0266, 0.0389, 0.0404, 0.0421];
const qqTailTheoreticalResidual = [-3.62, -3.32, -3.19, -3.07, -3.00, -2.95, -2.90, -2.84, -2.78, -2.72, -2.67,
  2.66, 2.72, 2.78, 2.86, 2.92, 2.99, 3.06, 3.16, 3.31, 3.59];
const qqTailResidual = [-3.43, -3.41, -3.41, -3.09, -3.02, -2.97, -2.93, -2.88, -2.82, -2.76, -2.72,
  2.78, 2.80, 2.84, 2.89, 3.05, 3.19, 3.19, 3.76, 4.04, 4.21];
// reference lines through the quartiles
const qqLineX = [-3.9, 3.9];
const qqLineOriginal = [-0.0287, 0.0291];
const qqLineResidual = [-3.776, 3.876];

const FONT = '"Liberation Sans", Arial, Helvetica, sans-serif';
Chart.defaults.font.family = FONT;
Chart.defaults.font.size = 13;
Chart.defaults.color = '#000';

const minusSign = (s) => s.replace('-', '\u2212');
const fmt2 = (v) => minusSign(Number(v).toFixed(2));
const fmt0 = (v) => minusSign(String(Math.round(v)));

const boxPlugin = {
    id: 'box',
    afterDraw(chart) {
        const { ctx, chartArea: a } = chart;
        ctx.save();
        ctx.strokeStyle = '#000';
        ctx.lineWidth = 1;
        ctx.strokeRect(Math.round(a.left) + 0.5, Math.round(a.top) + 0.5,
            Math.round(a.right - a.left) - 1, Math.round(a.bottom - a.top) - 1);
        ctx.restore();
    },
};

const ring = {
    pointStyle: 'circle',
    pointRadius: 2.9,
    pointHoverRadius: 2.9,
    pointBorderWidth: 1,
    pointBorderColor: '#000',
    pointBackgroundColor: 'rgba(0,0,0,0)',
    borderColor: '#000',
    backgroundColor: 'rgba(0,0,0,0)',
};

const zip = (xs, ys) => xs.map((x, i) => ({ x, y: ys[i] }));

function xAxis(min, max, ticks, format, title) {
    return {
        type: 'linear',
        min, max,
        afterBuildTicks: (scale) => { scale.ticks = ticks.map((v) => ({ value: v })); },
        afterFit: (scale) => { scale.height = 53; },
        border: { display: false },
        grid: { drawOnChartArea: false, drawTicks: true, tickLength: 6, color: '#000' },
        ticks: { callback: format, autoSkip: false, maxRotation: 0, minRotation: 0, padding: 4.2, color: '#000' },
        title: { display: true, text: title, color: '#000', padding: { top: 0, bottom: 10 } },
    };
}

function yAxis(min, max, ticks, format, title, labelPad) {
    return {
        type: 'linear',
        min, max,
        afterBuildTicks: (scale) => { scale.ticks = ticks.map((v) => ({ value: v })); },
        afterFit: (scale) => { scale.width = 48; },
        border: { display: false },
        grid: { drawOnChartArea: false, drawTicks: true, tickLength: 6, color: '#000' },
        ticks: { callback: format, autoSkip: false, minRotation: 90, maxRotation: 90, crossAlign: 'center', padding: labelPad, color: '#000' },
        title: { display: true, text: title, color: '#000', padding: { top: 5, bottom: 0 } },
    };
}

function makePanel(id, title, datasets, x, y) {
    return new Chart(document.getElementById(id), {
        type: 'scatter',
        data: { datasets },
        options: {
            responsive: false,
            animation: false,
            devicePixelRatio: 1,
            layout: { padding: { left: 0, right: 20, top: 0, bottom: 0 }, autoPadding: false },
            plugins: {
                legend: { display: false },
                tooltip: { enabled: false },
                title: {
                    display: true,
                    text: title,
                    fullSize: false,
                    color: '#000',
                    font: { size: 15.6, weight: 'bold' },
                    padding: { top: 11.3, bottom: 7 },
                },
            },
            scales: { x, y },
        },
        plugins: [boxPlugin],
    });
}

const timeOf = (i) => 1 + i * timeStep;
const timeMin = -124.5;
const timeMax = 3264.5;

makePanel('origPlot', 'Original data', [
    { ...ring, data: originalValues.map((v, i) => ({ x: timeOf(i), y: v })) },
], xAxis(timeMin, timeMax, timeTicks, fmt0, 'Time'),
   yAxis(-0.0508, 0.0508, returnTicks, fmt2, 'Original values', -5.6));

makePanel('origQQ', 'Q\u2212Q plot for original data', [
    { type: 'line', data: zip(qqLineX, qqLineOriginal), showLine: true, borderColor: '#000', borderWidth: 1, pointRadius: 0, clip: 0 },
    { ...ring, data: zip(qqBodyTheoretical, qqBodyOriginal), showLine: true, borderWidth: 6.5, borderJoinStyle: 'round', borderCapStyle: 'round' },
    { ...ring, data: zip(qqTailTheoreticalOriginal, qqTailOriginal) },
], xAxis(-3.888, 3.888, quantileTicks, fmt0, 'Theoretical Quantiles'),
   yAxis(-0.0502, 0.0455, returnTicks, fmt2, 'Sample Quantiles', -5.6));

makePanel('residPlot', 'Residual plot', [
    { type: 'line', data: [{ x: timeMin, y: residualBands[0] }, { x: timeMax, y: residualBands[0] }], showLine: true, borderColor: '#000', borderWidth: 1, borderDash: [4, 4], pointRadius: 0, clip: 0 },
    { type: 'line', data: [{ x: timeMin, y: residualBands[1] }, { x: timeMax, y: residualBands[1] }], showLine: true, borderColor: '#000', borderWidth: 1, borderDash: [4, 4], pointRadius: 0, clip: 0 },
    { ...ring, data: residualValues.map((v, i) => ({ x: timeOf(i), y: v })) },
], xAxis(timeMin, timeMax, timeTicks, fmt0, 'Time'),
   yAxis(-4.536, 4.536, residualTicks, fmt0, 'Mean standardized residuals', 3.5));

makePanel('residQQ', 'Q\u2212Q plot for mean standardized residuals', [
    { type: 'line', data: zip(qqLineX, qqLineResidual), showLine: true, borderColor: '#000', borderWidth: 1, pointRadius: 0, clip: 0 },
    { ...ring, data: zip(qqBodyTheoretical, qqBodyResidual), showLine: true, borderWidth: 6.5, borderJoinStyle: 'round', borderCapStyle: 'round' },
    { ...ring, data: zip(qqTailTheoreticalResidual, qqTailResidual) },
], xAxis(-3.888, 3.888, quantileTicks, fmt0, 'Theoretical quantiles from a standard normal distribution'),
   yAxis(-3.725, 4.505, residualQQTicks, fmt0, 'Sample quantiles', 3.5));
</script>
</body>
</html>
